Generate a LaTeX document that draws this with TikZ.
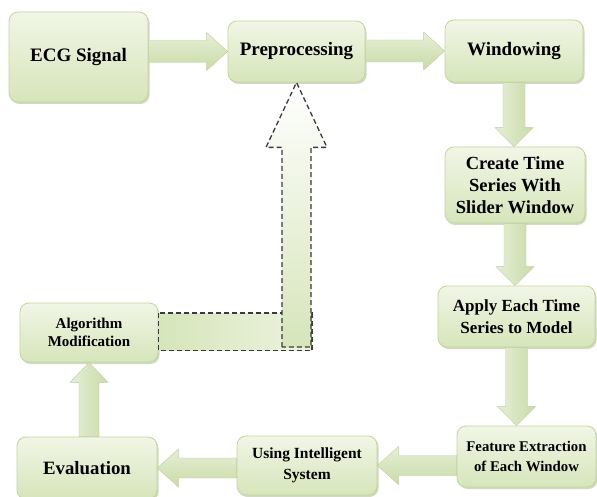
\documentclass[tikz,border=0pt]{standalone}
\usepackage{fontspec}
\setmainfont{Liberation Serif}
\usetikzlibrary{shadows,calc}
\definecolor{boxtop}{HTML}{F1F6E6}
\definecolor{boxbot}{HTML}{D6E5BA}
\definecolor{boxline}{HTML}{C2D59E}
\definecolor{arrA}{HTML}{E6EFD6}
\definecolor{arrB}{HTML}{C9DBA8}
\definecolor{shadowc}{HTML}{98AC78}
\definecolor{dashc}{HTML}{3A3A3A}
\tikzset{
  box/.style={draw=boxline, line width=0.8pt, rounded corners=9pt,
    top color=boxtop, bottom color=boxbot, align=center, inner sep=0pt,
    font=\bfseries, text=black,
    drop shadow={shadow xshift=1.5pt, shadow yshift=-2pt, opacity=0.45, fill=shadowc}},
  harrow/.style={top color=arrA, bottom color=arrB, draw=arrB!80!black!30!arrB, line width=0.4pt},
  varrow/.style={left color=arrA, right color=arrB, draw=arrB!80!black!30!arrB, line width=0.4pt},
  dashbox/.style={draw=dashc, dash pattern=on 5pt off 3pt, line width=1.3pt},
}
\newcommand\arrR[2]{\path[harrow] let \p1=(#1.east), \p2=(#2.west) in
  (\x1,\y2+11pt) -- (\x2-21pt,\y2+11pt) -- (\x2-21pt,\y2+19pt) -- (\x2,\y2)
  -- (\x2-21pt,\y2-19pt) -- (\x2-21pt,\y2-11pt) -- (\x1,\y2-11pt) -- cycle;}
\newcommand\arrL[2]{\path[harrow] let \p1=(#1.west), \p2=(#2.east) in
  (\x1,\y2+10pt) -- (\x2+21pt,\y2+10pt) -- (\x2+21pt,\y2+19pt) -- (\x2,\y2)
  -- (\x2+21pt,\y2-19pt) -- (\x2+21pt,\y2-10pt) -- (\x1,\y2-10pt) -- cycle;}
\newcommand\arrD[2]{\path[varrow] let \p1=(#1.south), \p2=(#2.north) in
  (\x1-11pt,\y1) -- (\x1-11pt,\y2+19pt) -- (\x1-19pt,\y2+19pt) -- (\x1,\y2)
  -- (\x1+19pt,\y2+19pt) -- (\x1+11pt,\y2+19pt) -- (\x1+11pt,\y1) -- cycle;}
\newcommand\arrU[2]{\path[varrow] let \p1=(#1.north), \p2=(#2.south) in
  (\x2-10pt,\y1) -- (\x2-10pt,\y2-20pt) -- (\x2-19pt,\y2-20pt) -- (\x2,\y2)
  -- (\x2+19pt,\y2-20pt) -- (\x2+10pt,\y2-20pt) -- (\x2+10pt,\y1) -- cycle;}
\begin{document}
\begin{tikzpicture}[x=1pt,y=-1pt]
\useasboundingbox[fill=white] (0,0) rectangle (597,497);
% boxes
\node[box, minimum width=139pt, minimum height=90pt, font=\bfseries\fontsize{19}{22}\selectfont] (ecg) at (78.5,57) {ECG Signal};
\node[box, minimum width=137pt, minimum height=61pt, font=\bfseries\fontsize{19}{22}\selectfont] (pre) at (296.5,51.5) {Preprocessing};
\node[box, minimum width=138pt, minimum height=62pt, font=\bfseries\fontsize{19}{22}\selectfont] (win) at (514,51) {Windowing};
\node[box, minimum width=140pt, minimum height=76pt, font=\bfseries\fontsize{18.5}{22}\selectfont] (cts) at (515,185) {Create Time\\Series With\\Slider Window};
\node[box, minimum width=157pt, minimum height=61pt, font=\bfseries\fontsize{17}{21.5}\selectfont] (app) at (516.5,316.5) {Apply Each Time\\Series to Model};
\node[box, minimum width=139pt, minimum height=61pt, font=\bfseries\fontsize{14.8}{20.5}\selectfont] (fea) at (526.5,456.5) {Feature Extraction\\of Each Window};
\node[box, minimum width=140pt, minimum height=59pt, font=\bfseries\fontsize{15.5}{20.5}\selectfont] (use) at (307,465.5) {Using Intelligent\\System};
\node[box, minimum width=140pt, minimum height=62pt, font=\bfseries\fontsize{18.8}{22}\selectfont] (eva) at (87,468) {Evaluation};
\node[box, minimum width=138pt, minimum height=59pt, font=\bfseries\fontsize{15}{18}\selectfont] (alg) at (89,332.5) {Algorithm\\Modification};
% block arrows
\arrR{ecg}{pre}
\arrR{pre}{win}
\arrD{win}{cts}
\arrD{cts}{app}
\arrD{app}{fea}
\arrL{fea}{use}
\arrL{use}{eva}
\arrU{eva}{alg}
% dashed feedback arrow
\path[dashbox, left color=boxbot, right color=boxbot!45!white]
  let \p1=(alg.east), \p2=(pre.south) in
  (\x1,\y1+19.5pt) rectangle (\x2+15.5pt,\y1-18pt);
\path[dashbox, top color=white, bottom color=boxbot]
  let \p1=(alg.east), \p2=(pre.south) in
  (\x2-14.5pt,\y1-14.5pt) -- (\x2-14.5pt,\y2-65pt) -- (\x2-30.5pt,\y2-65pt) -- (\x2,\y2)
  -- (\x2+30.5pt,\y2-65pt) -- (\x2+14.5pt,\y2-65pt) -- (\x2+14.5pt,\y1-14.5pt) -- cycle;
\end{tikzpicture}
\end{document}
